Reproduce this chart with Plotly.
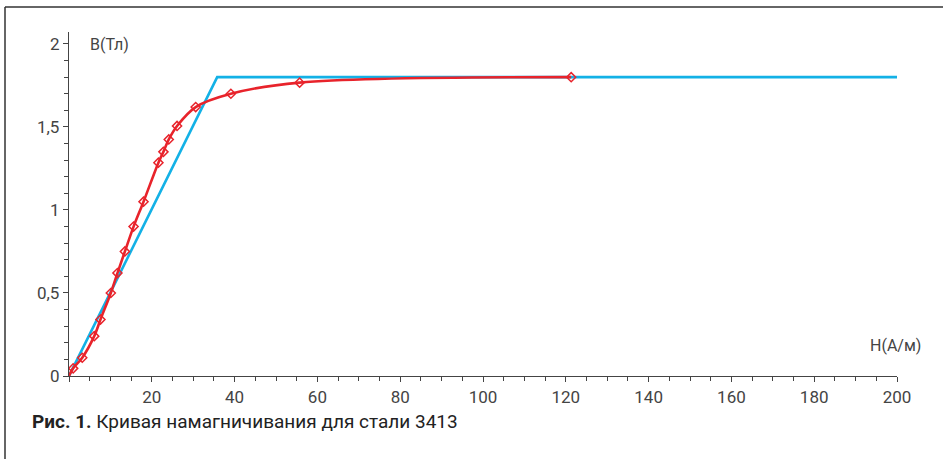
import plotly.graph_objects as go

# Measured magnetization curve (red) - marker points
h_meas = [0, 1.0, 3.2, 6.1, 7.6, 10.1, 11.7, 13.5, 15.6, 18.0, 21.6, 22.8, 24.1, 26.1, 30.6, 39.1, 55.7, 121.3]
b_meas = [0, 0.046, 0.11, 0.24, 0.34, 0.50, 0.62, 0.75, 0.90, 1.05, 1.285, 1.35, 1.425, 1.506, 1.62, 1.70, 1.767, 1.80]

# Piecewise-linear approximation (blue)
h_lin = [0, 35.8, 200]
b_lin = [0, 1.80, 1.80]

x_ticks = [0, 20, 40, 60, 80, 100, 120, 140, 160, 180, 200]
x_tick_labels = ["", "20", "40", "60", "80", "100", "120", "140", "160", "180", "200"]
y_ticks = [0, 0.5, 1, 1.5, 2]
y_tick_labels = ["0", "0,5", "1", "1,5", "2"]

RED = "#e8232b"
BLUE = "#13b1e6"
AX = "#444444"
FONT = "Roboto, Lato, DejaVu Sans"

fig = go.Figure()
fig.add_trace(go.Scatter(x=h_lin, y=b_lin, mode="lines",
                         line=dict(color=BLUE, width=2.6), hoverinfo="skip"))
fig.add_trace(go.Scatter(x=h_meas, y=b_meas, mode="lines",
                         line=dict(color=RED, width=2.6, shape="spline", smoothing=1.0),
                         hoverinfo="skip"))
fig.add_trace(go.Scatter(x=h_meas[1:], y=b_meas[1:], mode="markers",
                         marker=dict(symbol="diamond-open", size=7, color=RED,
                                     line=dict(color=RED, width=1.5)),
                         hoverinfo="skip"))

PW, PH = 828, 344  # plot area size in px
fig.update_layout(
    width=943, height=459,
    margin=dict(l=69, r=46, t=32, b=83, pad=0),
    paper_bgcolor="white", plot_bgcolor="white",
    showlegend=False,
    font=dict(family=FONT, color=AX, size=16),
    xaxis=dict(range=[0, 200], tickmode="array", tickvals=x_ticks, ticktext=x_tick_labels,
               showgrid=False, zeroline=False, showline=True, linecolor=AX, linewidth=1.3,
               ticks="outside", ticklen=5, tickcolor=AX, tickwidth=1.2,
               minor=dict(dtick=5, ticks="outside", ticklen=4, tickcolor=AX, tickwidth=1),
               tickfont=dict(family=FONT, size=17, color=AX)),
    yaxis=dict(range=[0, 2.072], tickmode="array", tickvals=y_ticks, ticktext=y_tick_labels,
               showgrid=False, zeroline=False, showline=True, linecolor=AX, linewidth=1.3,
               ticks="outside", ticklen=5, tickcolor=AX, tickwidth=1.2,
               minor=dict(dtick=0.1, ticks="outside", ticklen=4, tickcolor=AX, tickwidth=1),
               tickfont=dict(family=FONT, size=17, color=AX)),
    annotations=[
        dict(text="B(Тл)", xref="paper", yref="paper", x=(88-69)/PW, y=(376-45)/PH,
             xanchor="left", yanchor="middle", showarrow=False,
             font=dict(family=FONT, size=16, color=AX)),
        dict(text="H(А/м)", xref="paper", yref="paper", x=(923-69)/PW, y=(376-345)/PH,
             xanchor="right", yanchor="middle", showarrow=False,
             font=dict(family=FONT, size=16, color=AX)),
        dict(text="<b>Рис. 1.</b> Кривая намагничивания для стали 3413",
             xref="paper", yref="paper", x=(30-69)/PW, y=-(421-376)/PH,
             xanchor="left", yanchor="middle", showarrow=False,
             font=dict(family=FONT, size=19, color="#222222")),
    ],
    shapes=[
        dict(type="line", xref="paper", yref="paper", x0=(5-69)/PW, x1=(943-69)/PW,
             y0=(376-7)/PH, y1=(376-7)/PH, line=dict(color="#333333", width=1.5)),
        dict(type="line", xref="paper", yref="paper", x0=(5-69)/PW, x1=(5-69)/PW,
             y0=(376-7)/PH, y1=-(459-376)/PH, line=dict(color="#333333", width=1.5)),
    ],
)

fig.write_html("out.html",
               config={"displayModeBar": False},
               post_script="document.body.style.margin='0';document.body.style.padding='0';")
